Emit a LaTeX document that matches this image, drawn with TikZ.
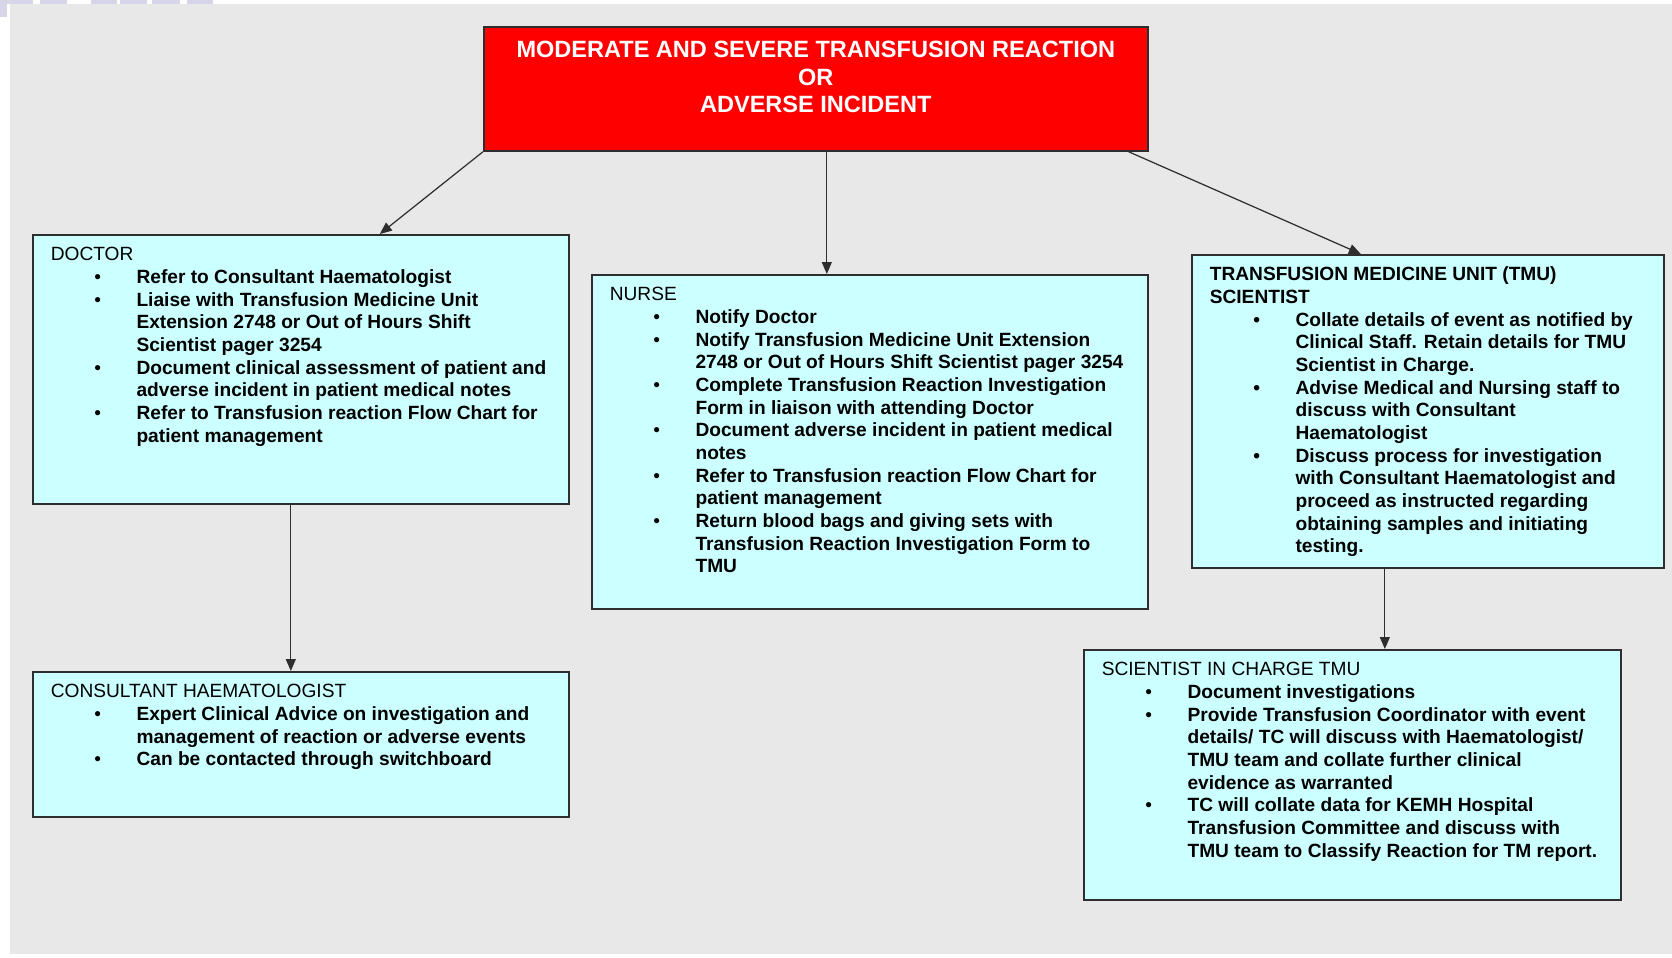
\documentclass[tikz,border=0pt]{standalone}
\usepackage{fontspec}
\setmainfont{Liberation Sans}
\usepackage{xcolor}
\usepackage{tikz}
\usetikzlibrary{arrows.meta, calc}
\definecolor{pagegrey}{HTML}{E8E8E8}
\definecolor{boxcyan}{HTML}{CCFFFF}
\definecolor{boxedge}{HTML}{2E2E2E}
\definecolor{alarmred}{HTML}{FF0000}
\definecolor{tablav}{HTML}{D6D6E8}
\tikzset{
  rolebox/.style={draw=boxedge, line width=1pt, fill=boxcyan, inner sep=0pt, anchor=north west, font=\fontsize{10.9}{12.9}\selectfont},
  alarmbox/.style={rolebox, fill=alarmred, text=white, font=\fontsize{13.4}{15.6}\selectfont\bfseries},
  flow/.style={-{Triangle[length=2.4mm, width=2mm]}, line width=0.7pt, boxedge},
}
% box body: width, height, text
\newcommand{\rolebody}[3]{\parbox[t][#2][t]{#1}{\raggedright\leftskip=10.2pt\relax #3\par}}
\newcommand{\rolehead}[1]{\rule{0pt}{14.7pt}#1\par}
\newcommand{\bitem}[1]{\par\hangindent=48.8pt\hangafter=1\noindent\makebox[48.8pt][l]{\hspace{24.8pt}\textbullet}\textbf{#1}}

\begin{document}
\begin{tikzpicture}[x=0.02cm, y=-0.02cm]
  \useasboundingbox (0,0) rectangle (1672,957);
  \fill[white] (0,0) rectangle (1672,957);
  \fill[pagegrey] (10,4) rectangle (1672,954);
  \foreach \xa/\xb in {0/33, 40/67, 91/117, 120/147, 152/180, 187/213}
    \fill[tablav] (\xa,0) rectangle (\xb,3.5);
  \fill[tablav] (0,0) rectangle (7,17);

  \node[alarmbox] (alarm) at (483,26) {\parbox[t][2.48cm][t]{13.28cm}{\centering
    \rule{0pt}{17.6pt}MODERATE AND SEVERE TRANSFUSION REACTION\\
    OR\\
    ADVERSE INCIDENT\par}};

  \node[rolebox] (doctor) at (32,234) {\rolebody{10.72cm}{5.38cm}{%
    \rolehead{DOCTOR}
    \bitem{Refer to Consultant Haematologist}
    \bitem{Liaise with Transfusion Medicine Unit\newline Extension 2748 or Out of Hours Shift\newline Scientist pager 3254}
    \bitem{Document clinical assessment of patient and\newline adverse incident in patient medical notes}
    \bitem{Refer to Transfusion reaction Flow Chart for\newline patient management}}};

  \node[rolebox] (nurse) at (591,274) {\rolebody{11.12cm}{6.68cm}{%
    \rolehead{NURSE}
    \bitem{Notify Doctor}
    \bitem{Notify Transfusion Medicine Unit Extension\newline 2748 or Out of Hours Shift Scientist pager 3254}
    \bitem{Complete Transfusion Reaction Investigation\newline Form in liaison with attending Doctor}
    \bitem{Document adverse incident in patient medical\newline notes}
    \bitem{Refer to Transfusion reaction Flow Chart for\newline patient management}
    \bitem{Return blood bags and giving sets with\newline Transfusion Reaction Investigation Form to\newline TMU}}};

  \node[rolebox] (tmu) at (1191,254) {\rolebody{9.44cm}{6.26cm}{%
    \rolehead{\bfseries TRANSFUSION MEDICINE UNIT (TMU)\newline SCIENTIST}
    \bitem{Collate details of event as notified by\newline Clinical Staff. Retain details for TMU\newline Scientist in Charge.}
    \bitem{Advise Medical and Nursing staff to\newline discuss with Consultant\newline Haematologist}
    \bitem{Discuss process for investigation\newline with Consultant Haematologist and\newline proceed as instructed regarding\newline obtaining samples and initiating\newline testing.}}};

  \node[rolebox] (consult) at (32,671) {\rolebody{10.72cm}{2.9cm}{%
    \rolehead{CONSULTANT HAEMATOLOGIST}
    \bitem{Expert Clinical Advice on investigation and\newline management of reaction or adverse events}
    \bitem{Can be contacted through switchboard}}};

  \node[rolebox] (charge) at (1083,649) {\rolebody{10.74cm}{5cm}{%
    \rolehead{SCIENTIST IN CHARGE TMU}
    \bitem{Document investigations}
    \bitem{Provide Transfusion Coordinator with event\newline details/ TC will discuss with Haematologist/\newline TMU team and collate further clinical\newline evidence as warranted}
    \bitem{TC will collate data for KEMH Hospital\newline Transfusion Committee and discuss with\newline TMU team to Classify Reaction for TM report.}}};

  \draw[flow] (alarm.south west) -- ([xshift=1.58cm]doctor.north);
  \draw[flow] ([xshift=0.22cm]alarm.south) -- ([xshift=0.22cm]alarm.south |- nurse.north);
  \draw[flow] ([xshift=-0.4cm]alarm.south east) -- ([xshift=-1.34cm]tmu.north);
  \draw[flow] ([xshift=-0.2cm]doctor.south) -- ([xshift=-0.2cm]doctor.south |- consult.north);
  \draw[flow] ([xshift=-0.86cm]tmu.south) -- ([xshift=-0.86cm]tmu.south |- charge.north);
\end{tikzpicture}
\end{document}
